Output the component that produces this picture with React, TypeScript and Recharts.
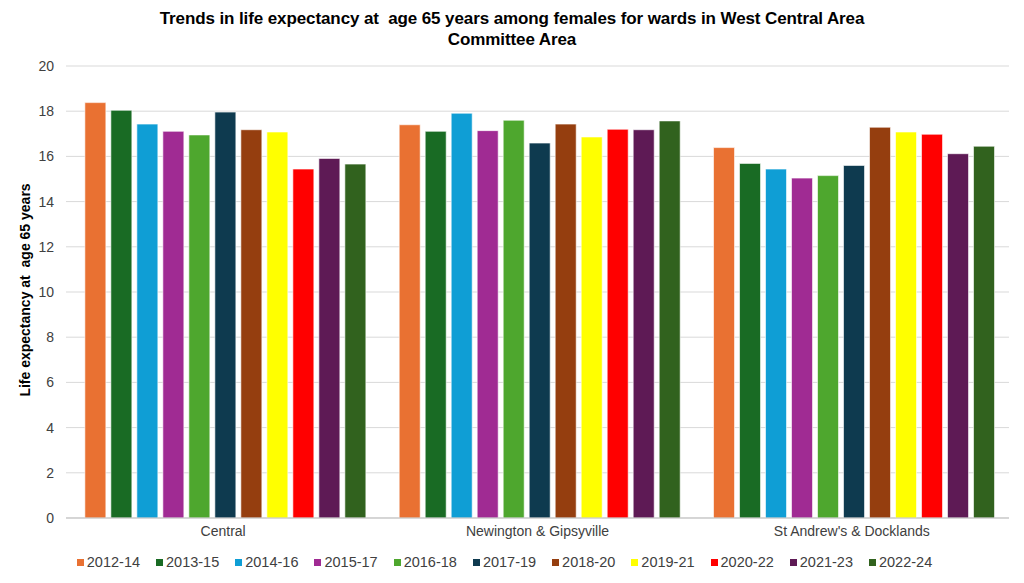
import React from "react";
import {
  BarChart,
  Bar,
  XAxis,
  YAxis,
  CartesianGrid,
  Legend,
} from "recharts";

document.body.style.margin = "0";

const wards = ["Central", "Newington & Gipsyville", "St Andrew's & Docklands"];
const periods = [
  "2012-14",
  "2013-15",
  "2014-16",
  "2015-17",
  "2016-18",
  "2017-19",
  "2018-20",
  "2019-21",
  "2020-22",
  "2021-23",
  "2022-24",
];
const colors = [
  "#E97132",
  "#196B24",
  "#0F9ED5",
  "#A02B93",
  "#4EA72E",
  "#0E3A4F",
  "#953E0F",
  "#FFFF00",
  "#FF0000",
  "#5E1A55",
  "#31621E",
];

// one row per ward, one value per period
const central = [18.38, 18.04, 17.43, 17.11, 16.95, 17.96, 17.18, 17.08, 15.44, 15.91, 15.66];
const newington = [17.4, 17.11, 17.91, 17.14, 17.6, 16.59, 17.43, 16.86, 17.2, 17.18, 17.57];
const stAndrews = [16.39, 15.69, 15.44, 15.04, 15.15, 15.6, 17.29, 17.08, 16.98, 16.12, 16.45];
const yTicks = [0, 2, 4, 6, 8, 10, 12, 14, 16, 18, 20];

const rows = [central, newington, stAndrews];
const data = wards.map((ward, i) => {
  const row: Record<string, string | number> = { ward };
  periods.forEach((p, j) => {
    row[p] = rows[i][j];
  });
  return row;
});

const font = "'Liberation Sans', Arial, sans-serif";

const renderLegend = () => (
  <div style={{ display: "flex", justifyContent: "center", fontSize: 14.5, fontFamily: font, color: "#404040", lineHeight: "18px" }}>
    {periods.map((p, i) => (
      <span key={p} style={{ display: "inline-flex", alignItems: "center", marginRight: i < periods.length - 1 ? 16 : 0 }}>
        <span style={{ width: 7, height: 7, background: colors[i], marginRight: 3, display: "inline-block" }} />
        {p}
      </span>
    ))}
  </div>
);

export default function App() {
  return (
    <div style={{ position: "relative", width: 1024, height: 583, fontFamily: font, background: "#fff" }}>
      <div
        style={{
          position: "absolute",
          top: 8,
          left: 0,
          width: 1024,
          textAlign: "center",
          fontWeight: "bold",
          fontSize: 17,
          lineHeight: "21px",
          color: "#000",
          letterSpacing: -0.1,
        }}
      >
        Trends in life expectancy at&nbsp; age 65 years among females for wards in West Central Area
        <br />
        Committee Area
      </div>
      <BarChart
        width={1024}
        height={583}
        data={data}
        margin={{ top: 66, right: 15, left: 0, bottom: 12 }}
        barCategoryGap="6%"
        barGap={5}
      >
        <CartesianGrid vertical={false} stroke="#d9d9d9" />
        <XAxis
          dataKey="ward"
          tickLine={false}
          axisLine={{ stroke: "#bfbfbf" }}
          tick={{ fontSize: 14, fill: "#404040", fontFamily: font }}
          height={35}
        />
        <YAxis
          domain={[0, 20]}
          ticks={yTicks}
          interval={0}
          tickLine={false}
          axisLine={false}
          width={66}
          tick={{ fontSize: 14, fill: "#404040", fontFamily: font }}
          tickMargin={6}
          label={{
            value: "Life expectancy at\u00a0 age 65 years",
            angle: -90,
            position: "insideLeft",
            dx: 20,
            dy: -2,
            style: { textAnchor: "middle", fontWeight: "bold", fontSize: 14, fill: "#000", fontFamily: font },
          }}
        />
        <Legend verticalAlign="bottom" content={renderLegend} />
        {periods.map((p, i) => (
          <Bar
            key={p}
            dataKey={p}
            fill={colors[i]}
            stroke="rgba(255,255,255,0.6)"
            strokeWidth={1}
            isAnimationActive={false}
          />
        ))}
      </BarChart>
    </div>
  );
}
